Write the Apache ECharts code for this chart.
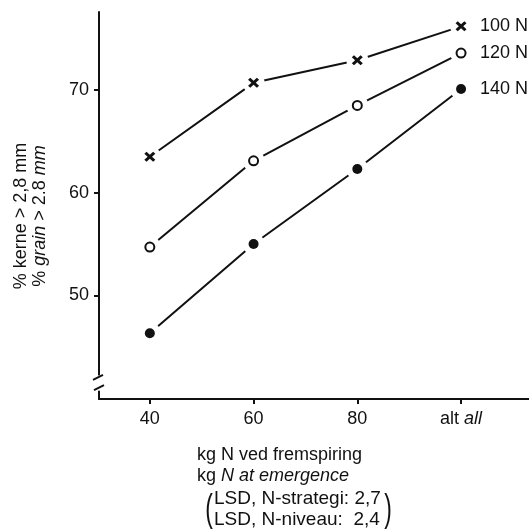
<!DOCTYPE html>
<html>
<head>
<meta charset="utf-8">
<script src="https://cdn.jsdelivr.net/npm/echarts@6/dist/echarts.min.js"></script>
<style>
html,body{margin:0;padding:0;background:#fff;}
#c{width:529px;height:530px;}
</style>
</head>
<body>
<div id="c"></div>
<script>
// x positions (kg N at emergence); 100 stands for "alt all"
const xPositions = [40, 60, 80, 100];
const xTickLabels = ['40', '60', '80', 'alt {i|all}'];
const yTicks = [50, 60, 70];
const seriesNames = ['100 N', '120 N', '140 N'];
const n100 = [63.5, 70.7, 72.9, 76.2];
const n120 = [54.7, 63.1, 68.5, 73.6];
const n140 = [46.3, 55.0, 62.3, 70.1];

const FONT = '"Liberation Sans", Arial, Helvetica, sans-serif';
const INK = '#111';
const markerDefs = [
  {symbol: 'path://M0,2 L2,0 L5,3 L8,0 L10,2 L7,5 L10,8 L8,10 L5,7 L2,10 L0,8 L3,5 Z', size: [11, 10], fill: INK, border: 0},
  {symbol: 'circle', size: 9, fill: '#fff', border: 2},
  {symbol: 'circle', size: 10, fill: INK, border: 0}
];
const values = [n100, n120, n140];

const chart = echarts.init(document.getElementById('c'), null, {renderer: 'canvas'});

const series = [];
values.forEach((vals, k) => {
  const data = vals.map((v, i) => [xPositions[i], v]);
  series.push({
    name: seriesNames[k], type: 'line', data: data, z: 2,
    showSymbol: false, symbol: 'none',
    lineStyle: {color: INK, width: 2},
    endLabel: {show: true, formatter: '{a}', distance: 19, color: INK, fontSize: 18, fontFamily: FONT},
    silent: true
  });
  series.push({
    name: seriesNames[k] + ' mask', type: 'scatter', data: data, z: 3,
    symbol: 'circle', symbolSize: 22,
    itemStyle: {color: '#fff', opacity: 1}, silent: true
  });
  const m = markerDefs[k];
  series.push({
    name: seriesNames[k] + ' marker', type: 'scatter', data: data, z: 4,
    symbol: m.symbol, symbolSize: m.size,
    itemStyle: {color: m.fill, borderColor: INK, borderWidth: m.border, opacity: 1}, silent: true
  });
});

const xMin = 30.2, xMax = 113.1, yMin = 39.9, yMax = 77.6;

chart.setOption({
  animation: false,
  backgroundColor: '#fff',
  grid: {left: 99, right: 0, top: 12, bottom: 131, containLabel: false},
  xAxis: {
    type: 'value', min: xMin, max: xMax,
    splitLine: {show: false},
    axisLine: {show: true, lineStyle: {color: INK, width: 2}},
    axisTick: {show: true, length: 5, lineStyle: {color: INK, width: 2}, customValues: xPositions},
    axisLabel: {
      show: true, customValues: xPositions, margin: 11,
      color: INK, fontSize: 18, fontFamily: FONT,
      formatter: function (v) { const i = xPositions.indexOf(v); return i >= 0 ? xTickLabels[i] : ''; },
      rich: {i: {fontStyle: 'italic', fontSize: 18, fontFamily: FONT, color: INK}}
    }
  },
  yAxis: {
    type: 'value', min: yMin, max: yMax,
    splitLine: {show: false},
    axisLine: {show: true, lineStyle: {color: INK, width: 2}},
    axisTick: {show: true, length: 5, lineStyle: {color: INK, width: 2}, customValues: yTicks},
    axisLabel: {show: true, customValues: yTicks, margin: 10, color: INK, fontSize: 18, fontFamily: FONT}
  },
  series: series
});

// decorations: axis break, axis titles
const axX = chart.convertToPixel({xAxisIndex: 0}, xMin);
const yb1 = chart.convertToPixel({yAxisIndex: 0}, 42.0);
const yb2 = chart.convertToPixel({yAxisIndex: 0}, 41.0);

const txt = (x, y, text, size) => ({
  type: 'text', x: x, y: y, z: 100,
  style: {text: text, fill: INK, font: (size || 18) + 'px ' + FONT, align: 'left', verticalAlign: 'middle'}
});

chart.setOption({
  graphic: [
    {type: 'rect', z: 90, shape: {x: axX - 4, y: yb1 - 2, width: 8, height: (yb2 - yb1) + 5}, style: {fill: '#fff'}},
    {type: 'line', z: 95, shape: {x1: axX - 6, y1: yb1 + 2.5, x2: axX + 4, y2: yb1 - 2.5}, style: {stroke: INK, lineWidth: 2}},
    {type: 'line', z: 95, shape: {x1: axX - 5, y1: yb2 + 2.5, x2: axX + 5, y2: yb2 - 2.5}, style: {stroke: INK, lineWidth: 2}},
    {
      type: 'text', x: 21, y: 216, rotation: Math.PI / 2, z: 100,
      style: {text: '% kerne > 2,8 mm', fill: INK, font: '18px ' + FONT, align: 'center', verticalAlign: 'middle'}
    },
    {
      type: 'text', x: 40, y: 216, rotation: Math.PI / 2, z: 100,
      style: {
        text: '% {i|grain} > 2.8 {i|mm}', fill: INK, font: '18px ' + FONT, align: 'center', verticalAlign: 'middle',
        rich: {i: {fontStyle: 'italic', fontSize: 18, fontFamily: FONT, fill: INK}}
      }
    },
    txt(197, 455, 'kg N ved fremspiring'),
    {
      type: 'text', x: 197, y: 476, z: 100,
      style: {
        text: 'kg {i|N at emergence}', fill: INK, font: '18px ' + FONT, align: 'left', verticalAlign: 'middle',
        rich: {i: {fontStyle: 'italic', fontSize: 18, fontFamily: FONT, fill: INK}}
      }
    },
    txt(214, 499, 'LSD, N-strategi: 2,7', 19),
    txt(214, 520, 'LSD, N-niveau:  2,4', 19),
    {type: 'text', x: 209, y: 511, z: 100, scaleX: 0.6,
      style: {text: '(', fill: INK, font: '38px ' + FONT, align: 'center', verticalAlign: 'middle'}},
    {type: 'text', x: 388, y: 511, z: 100, scaleX: 0.6,
      style: {text: ')', fill: INK, font: '38px ' + FONT, align: 'center', verticalAlign: 'middle'}}
  ]
});
</script>
</body>
</html>
